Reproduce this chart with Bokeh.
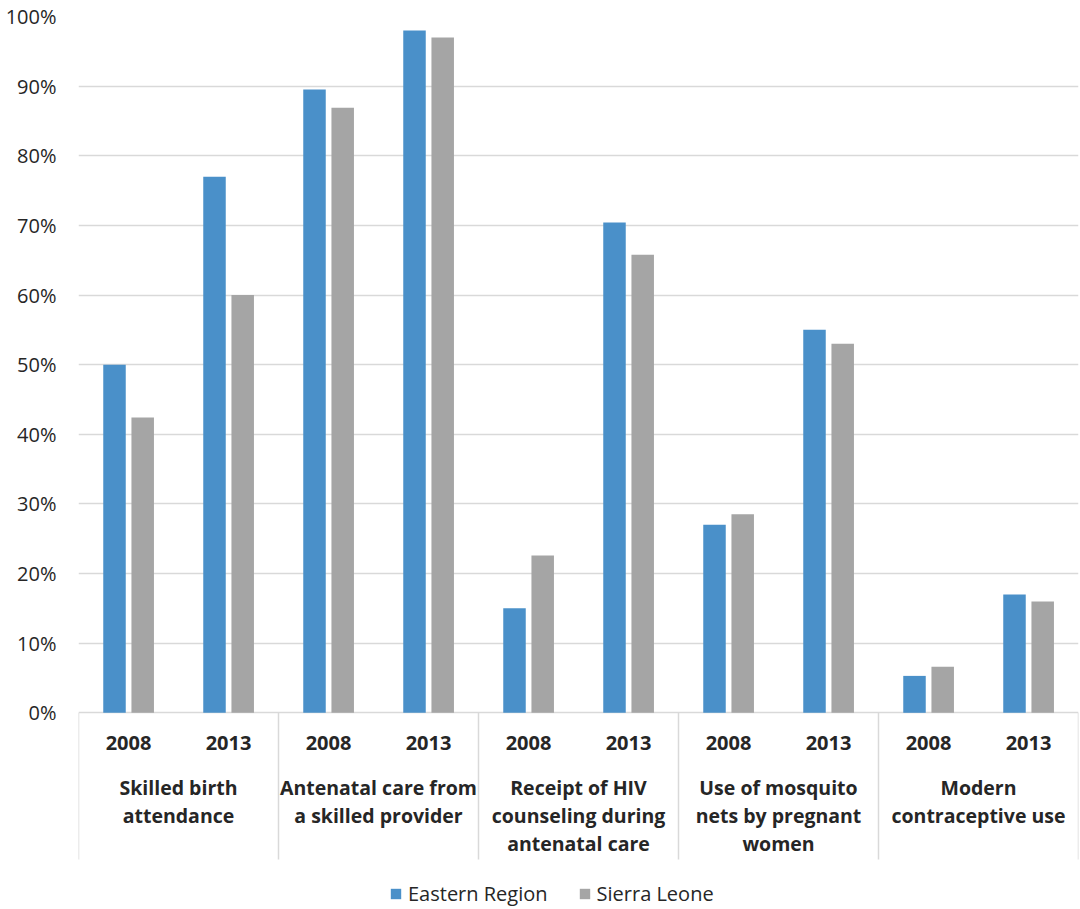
from bokeh.plotting import figure
from bokeh.models import (ColumnDataSource, FactorRange, Range1d, FixedTicker,
                          PrintfTickFormatter, Legend)
from bokeh.transform import dodge
from bokeh.core.properties import value
from bokeh.embed import file_html
from bokeh.resources import INLINE

# ---------------- data ----------------
groups = [
    "Skilled birth\nattendance",
    "Antenatal care from\na skilled provider",
    "Receipt of HIV\ncounseling during\nantenatal care",
    "Use of mosquito\nnets by pregnant\nwomen",
    "Modern\ncontraceptive use",
]
years = ["2008", "2013"]
eastern = [50.0, 77.0, 89.5, 98.0, 15.0, 70.4, 27.0, 55.0, 5.3, 17.0]
sierra = [42.4, 60.0, 86.9, 97.0, 22.6, 65.8, 28.5, 53.0, 6.6, 16.0]
series_names = ["Eastern Region", "Sierra Leone"]
y_ticks = [0, 10, 20, 30, 40, 50, 60, 70, 80, 90, 100]

# ---------------- style ----------------
BLUE = "#4A90C9"
GRAY = "#A5A5A5"
GRID = "#D9D9D9"
TEXT = "#262626"
FONT = "Open Sans"

factors = [(g, y) for g in groups for y in years]
src = ColumnDataSource(data=dict(x=factors, eastern=eastern, sierra=sierra))

x_range = FactorRange(*factors, group_padding=0, factor_padding=0,
                      subgroup_padding=0, range_padding=0)
p = figure(width=1080, height=909, x_range=x_range,
           y_range=Range1d(-28.25, 100),
           output_backend="svg", toolbar_location=None,
           x_axis_location=None,
           min_border_left=78, min_border_right=2,
           min_border_top=16, min_border_bottom=0)
p.outline_line_color = None
p.background_fill_color = "white"
p.border_fill_color = "white"

# y axis
ya = p.yaxis[0]
ya.ticker = FixedTicker(ticks=y_ticks)
ya.formatter = PrintfTickFormatter(format="%d%%")
ya.axis_line_color = None
ya.major_tick_line_color = None
ya.minor_tick_line_color = None
ya.major_tick_out = 0
ya.major_label_standoff = 22
ya.major_label_text_font = FONT
ya.major_label_text_font_size = "20px"
ya.major_label_text_color = TEXT

p.xgrid.visible = False
p.ygrid.ticker = FixedTicker(ticks=y_ticks)
p.ygrid.grid_line_color = GRID
p.ygrid.grid_line_width = 1.5

# bars
r1 = p.vbar(x=dodge("x", -0.14, range=p.x_range), top="eastern", bottom=0,
            width=0.225, source=src, fill_color=BLUE, line_color=None)
r2 = p.vbar(x=dodge("x", 0.142, range=p.x_range), top="sierra", bottom=0,
            width=0.225, source=src, fill_color=GRAY, line_color=None)

# separators of the category axis (group boundaries, synthetic coords)
bounds = [2 * i for i in range(len(groups) + 1)]
p.segment(x0=bounds, x1=bounds, y0=[0] * len(bounds),
          y1=[-21.07] * len(bounds), line_color=GRID, line_width=1.5)

# year labels
p.text(x=factors, y=[0] * len(factors), text=[f[1] for f in factors],
       y_offset=30, text_align="center", text_baseline="alphabetic",
       text_font=value(FONT), text_font_style="bold",
       text_font_size="20px", text_color=TEXT)

# group labels (one glyph row per line)
gx, gt, goff = [], [], []
for g in groups:
    for k, line in enumerate(g.split("\n")):
        gx.append(g)
        gt.append(line)
        goff.append(74.3 + 28.0 * k)
p.text(x=gx, y=[0] * len(gx), text=gt, y_offset=goff,
       text_align="center", text_baseline="alphabetic",
       text_font=value(FONT), text_font_style="bold",
       text_font_size="19.5px", text_color=TEXT)

legend = Legend(items=[(series_names[0], [r1]), (series_names[1], [r2])],
                location=(311, 2), orientation="horizontal",
                glyph_width=13, glyph_height=13, label_standoff=6,
                spacing=30, padding=0, margin=0,
                border_line_color=None, background_fill_alpha=0,
                label_text_font=FONT, label_text_font_size="20px",
                label_text_color=TEXT)
p.add_layout(legend)

open("out.html", "w").write(file_html(p, INLINE))
